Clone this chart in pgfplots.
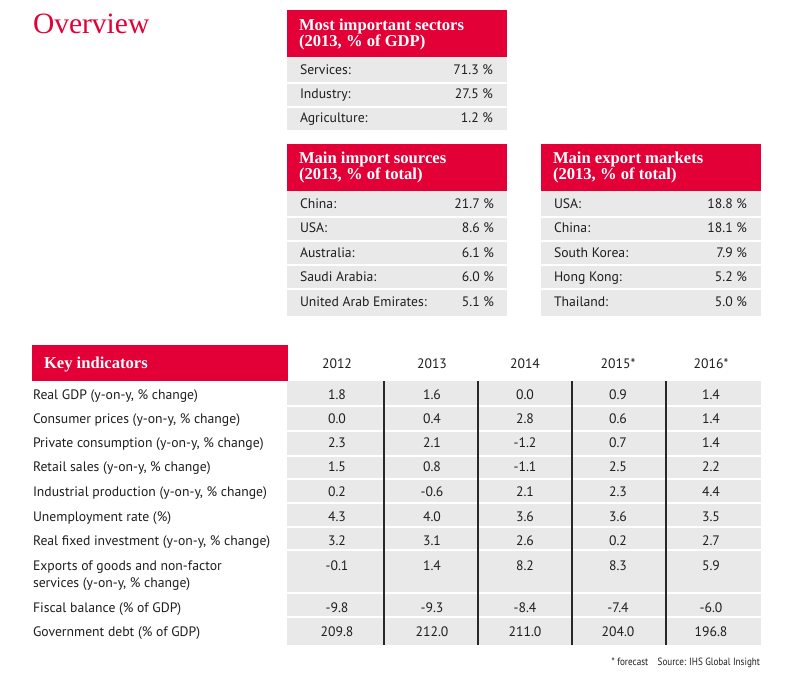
\documentclass[border=0pt]{standalone}
\usepackage{pgfplots}
\usepackage{pgfplotstable}
\pgfplotsset{compat=1.18}
\usepackage{fontspec}
\setmainfont{PT Sans}
\newfontfamily\hfont{Liberation Serif}
\newfontfamily\narrowf{PT Sans}[FakeStretch=0.87]
\definecolor{ired}{RGB}{226,0,55}
\definecolor{igray}{RGB}{233,233,233}
\definecolor{itext}{RGB}{30,30,30}
\definecolor{iline}{RGB}{40,40,40}
\newcommand{\rect}[5]{\addplot[fill=#5,draw=none] coordinates {(#1,#2) (#3,#2) (#3,#4) (#1,#4)} -- cycle;}
\newcommand{\bodyf}{\fontsize{13.7}{16}\selectfont}
\newcommand{\headf}{\hfont\bfseries\fontsize{16.6}{19}\selectfont}
\tikzset{tx/.style={inner sep=0pt, outer sep=0pt, text=itext}}

\pgfplotstableread{
x y v
337 399 1.8
432 399 1.6
525 399 0.0
618 399 0.9
711 399 1.4
337 423 0.0
432 423 0.4
525 423 2.8
618 423 0.6
711 423 1.4
337 447 2.3
432 447 2.1
525 447 -1.2
618 447 0.7
711 447 1.4
337 471 1.5
432 471 0.8
525 471 -1.1
618 471 2.5
711 471 2.2
337 496 0.2
432 496 -0.6
525 496 2.1
618 496 2.3
711 496 4.4
337 521 4.3
432 521 4.0
525 521 3.6
618 521 3.6
711 521 3.5
337 545 3.2
432 545 3.1
525 545 2.6
618 545 0.2
711 545 2.7
337 570 -0.1
432 570 1.4
525 570 8.2
618 570 8.3
711 570 5.9
337 612 -9.8
432 612 -9.3
525 612 -8.4
618 612 -7.4
711 612 -6.0
337 636 209.8
432 636 212.0
525 636 211.0
618 636 204.0
711 636 196.8
}\kidata

\begin{document}
\begin{tikzpicture}
\begin{axis}[
  width=789pt, height=672pt, scale only axis,
  xmin=0, xmax=789, ymin=0, ymax=672, y dir=reverse,
  hide axis, clip=false,
]
% background
\rect{0}{0}{789}{672}{white}

% title
\node[tx, anchor=base west, text=ired, font=\hfont\fontsize{29.5}{32}\selectfont] at (axis cs:33,33) {Overview};

% ---- Box 1: sectors
\rect{287}{10}{507}{57}{ired}
\rect{287}{57}{507}{82}{igray}
\rect{287}{84}{507}{106}{igray}
\rect{287}{108}{507}{130}{igray}
\node[tx, anchor=base west, text=white, font=\headf] at (axis cs:299,30) {Most important sectors};
\node[tx, anchor=base west, text=white, font=\headf] at (axis cs:299,46) {(2013, \% of GDP)};
\node[tx, anchor=base west, font=\bodyf] at (axis cs:300,74) {Services:};
\node[tx, anchor=base west, font=\bodyf] at (axis cs:300,98) {Industry:};
\node[tx, anchor=base west, font=\bodyf] at (axis cs:300,122) {Agriculture:};
\node[tx, anchor=base east, font=\bodyf] at (axis cs:493,74) {71.3 \%};
\node[tx, anchor=base east, font=\bodyf] at (axis cs:493,98) {27.5 \%};
\node[tx, anchor=base east, font=\bodyf] at (axis cs:493,122) {1.2 \%};

% ---- Box 2: imports
\rect{287}{144}{507}{191}{ired}
\rect{287}{191}{507}{216}{igray}
\rect{287}{218}{507}{240}{igray}
\rect{287}{242}{507}{264}{igray}
\rect{287}{266}{507}{288}{igray}
\rect{287}{290}{507}{316}{igray}
\node[tx, anchor=base west, text=white, font=\headf] at (axis cs:299,163) {Main import sources};
\node[tx, anchor=base west, text=white, font=\headf] at (axis cs:299,179) {(2013, \% of total)};
\node[tx, anchor=base west, font=\bodyf] at (axis cs:300,208) {China:};
\node[tx, anchor=base west, font=\bodyf] at (axis cs:300,232) {USA:};
\node[tx, anchor=base west, font=\bodyf] at (axis cs:300,257) {Australia:};
\node[tx, anchor=base west, font=\bodyf] at (axis cs:300,281) {Saudi Arabia:};
\node[tx, anchor=base west, font=\bodyf] at (axis cs:300,306) {United Arab Emirates:};
\node[tx, anchor=base east, font=\bodyf] at (axis cs:494,208) {21.7 \%};
\node[tx, anchor=base east, font=\bodyf] at (axis cs:494,232) {8.6 \%};
\node[tx, anchor=base east, font=\bodyf] at (axis cs:494,257) {6.1 \%};
\node[tx, anchor=base east, font=\bodyf] at (axis cs:494,281) {6.0 \%};
\node[tx, anchor=base east, font=\bodyf] at (axis cs:494,306) {5.1 \%};

% ---- Box 3: exports
\rect{541}{144}{761}{191}{ired}
\rect{541}{191}{761}{216}{igray}
\rect{541}{218}{761}{240}{igray}
\rect{541}{242}{761}{264}{igray}
\rect{541}{266}{761}{288}{igray}
\rect{541}{290}{761}{316}{igray}
\node[tx, anchor=base west, text=white, font=\headf] at (axis cs:553,163) {Main export markets};
\node[tx, anchor=base west, text=white, font=\headf] at (axis cs:553,179) {(2013, \% of total)};
\node[tx, anchor=base west, font=\bodyf] at (axis cs:554,208) {USA:};
\node[tx, anchor=base west, font=\bodyf] at (axis cs:554,232) {China:};
\node[tx, anchor=base west, font=\bodyf] at (axis cs:554,257) {South Korea:};
\node[tx, anchor=base west, font=\bodyf] at (axis cs:554,281) {Hong Kong:};
\node[tx, anchor=base west, font=\bodyf] at (axis cs:554,306) {Thailand:};
\node[tx, anchor=base east, font=\bodyf] at (axis cs:747,208) {18.8 \%};
\node[tx, anchor=base east, font=\bodyf] at (axis cs:747,232) {18.1 \%};
\node[tx, anchor=base east, font=\bodyf] at (axis cs:747,257) {7.9 \%};
\node[tx, anchor=base east, font=\bodyf] at (axis cs:747,281) {5.2 \%};
\node[tx, anchor=base east, font=\bodyf] at (axis cs:747,306) {5.0 \%};

% ---- Key indicators
\rect{32}{345}{288}{381}{ired}
\node[tx, anchor=base west, text=white, font=\headf] at (axis cs:44,368) {Key indicators};
\node[tx, anchor=base, font=\bodyf] at (axis cs:337,368) {2012};
\node[tx, anchor=base, font=\bodyf] at (axis cs:432,368) {2013};
\node[tx, anchor=base, font=\bodyf] at (axis cs:525,368) {2014};
\node[tx, anchor=base, font=\bodyf] at (axis cs:618,368) {2015*};
\node[tx, anchor=base, font=\bodyf] at (axis cs:711,368) {2016*};

\rect{287}{381}{761}{405}{igray}
\rect{287}{407}{761}{430}{igray}
\rect{287}{432}{761}{455}{igray}
\rect{287}{457}{761}{478}{igray}
\rect{287}{480}{761}{502}{igray}
\rect{287}{504}{761}{526}{igray}
\rect{287}{528}{761}{549}{igray}
\rect{287}{551}{761}{592}{igray}
\rect{287}{594}{761}{616}{igray}
\rect{287}{618}{761}{645}{igray}

\addplot[iline, line width=1.1pt] coordinates {(384,381) (384,645)};
\addplot[iline, line width=1.1pt] coordinates {(478,381) (478,645)};
\addplot[iline, line width=1.1pt] coordinates {(572,381) (572,645)};
\addplot[iline, line width=1.1pt] coordinates {(666,381) (666,645)};

\node[tx, anchor=base west, font=\bodyf] at (axis cs:33,399) {Real GDP (y-on-y, \% change)};
\node[tx, anchor=base west, font=\bodyf] at (axis cs:33,423) {Consumer prices (y-on-y, \% change)};
\node[tx, anchor=base west, font=\bodyf] at (axis cs:33,447) {Private consumption (y-on-y, \% change)};
\node[tx, anchor=base west, font=\bodyf] at (axis cs:33,471) {Retail sales (y-on-y, \% change)};
\node[tx, anchor=base west, font=\bodyf] at (axis cs:33,496) {Industrial production (y-on-y, \% change)};
\node[tx, anchor=base west, font=\bodyf] at (axis cs:33,521) {Unemployment rate (\%)};
\node[tx, anchor=base west, font=\bodyf] at (axis cs:33,545) {Real fixed investment (y-on-y, \% change)};
\node[tx, anchor=base west, font=\bodyf] at (axis cs:33,570) {Exports of goods and non-factor};
\node[tx, anchor=base west, font=\bodyf] at (axis cs:33,587) {services (y-on-y, \% change)};
\node[tx, anchor=base west, font=\bodyf] at (axis cs:33,612) {Fiscal balance (\% of GDP)};
\node[tx, anchor=base west, font=\bodyf] at (axis cs:33,636) {Government debt (\% of GDP)};

\addplot[draw=none, nodes near coords, point meta=explicit symbolic,
  every node near coord/.append style={anchor=base, inner sep=0pt, font=\bodyf, text=itext}]
  table[x=x, y=y, meta=v] {\kidata};

\node[tx, anchor=base east, font=\narrowf\fontsize{10.5}{12}\selectfont] at (axis cs:760,665) {* forecast\hspace{0.9em}Source: IHS Global Insight};
\end{axis}
\end{tikzpicture}
\end{document}
